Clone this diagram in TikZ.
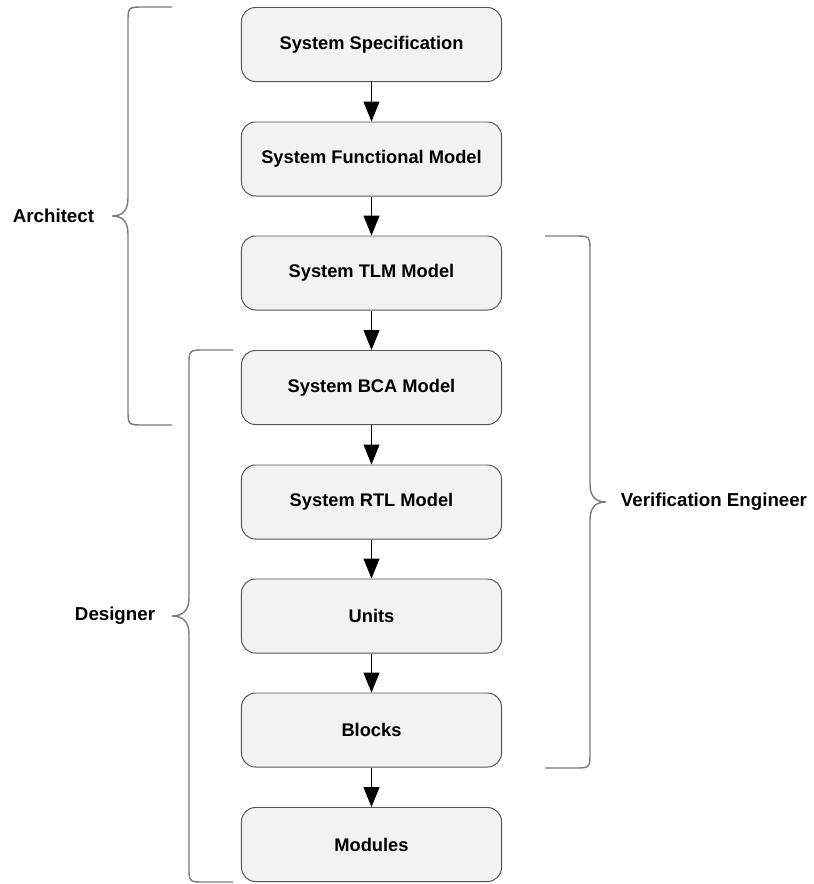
\documentclass[tikz,border=0pt]{standalone}
\usepackage{fontspec}
\setmainfont{Liberation Sans}
\usetikzlibrary{arrows.meta}

\definecolor{boxfill}{HTML}{F2F2F2}
\definecolor{boxline}{HTML}{555555}
\definecolor{braceline}{HTML}{7A7A7A}

\tikzset{
  stage/.style={draw=boxline, fill=boxfill, rounded corners=10pt, line width=0.7pt,
    minimum width=6.5cm, minimum height=1.85cm, font=\bfseries\fontsize{13}{15}\selectfont},
  flow/.style={line width=0.8pt, -{Triangle[length=0.5cm,width=0.4cm]}},
  brace/.style={draw=braceline, line width=1pt},
  role/.style={font=\bfseries\fontsize{13.3}{15}\selectfont}
}

\begin{document}
\begin{tikzpicture}[x=0.025cm,y=-0.025cm]
\useasboundingbox (0,0) rectangle (814,884);

\node[stage] (spec) at (371.5,44.5) {System Specification};
\node[stage] (func) at (371.5,159) {System Functional Model};
\node[stage] (tlm) at (371.5,273) {System TLM Model};
\node[stage] (bca) at (371.5,387.5) {System BCA Model};
\node[stage] (rtl) at (371.5,502) {System RTL Model};
\node[stage] (units) at (371.5,616) {Units};
\node[stage] (blocks) at (371.5,730) {Blocks};
\node[stage] (modules) at (371.5,844.5) {Modules};

\draw[flow] (spec) -- (func);
\draw[flow] (func) -- (tlm);
\draw[flow] (tlm) -- (bca);
\draw[flow] (bca) -- (rtl);
\draw[flow] (rtl) -- (units);
\draw[flow] (units) -- (blocks);
\draw[flow] (blocks) -- (modules);

% roles
\node[role, anchor=east] (arch) at (99,216) {Architect};
\node[role, anchor=east] (desig) at (160,616) {Designer};
\node[role, anchor=west] (verif) at (616,502) {Verification Engineer};

\coordinate (archtip) at (112,216);
\coordinate (desigtip) at (172,616);
\coordinate (veriftip) at (606,502);

\draw[brace] (172,7) -- (144,7) .. controls (128,7) .. (128,23) -- (128,198)
  .. controls (128,212) and (121,216) .. (archtip)
  .. controls (121,216) and (128,220) .. (128,234) -- (128,409)
  .. controls (128,425) .. (144,425) -- (172,425);
\draw[brace] (233,350) -- (205,350) .. controls (189,350) .. (189,366) -- (189,598)
  .. controls (189,612) and (181,616) .. (desigtip)
  .. controls (181,616) and (189,620) .. (189,634) -- (189,866)
  .. controls (189,882) .. (205,882) -- (233,882);
\draw[brace] (545,236) -- (574,236) .. controls (590,236) .. (590,252) -- (590,484)
  .. controls (590,498) and (597,502) .. (veriftip)
  .. controls (597,502) and (590,506) .. (590,520) -- (590,752)
  .. controls (590,768) .. (574,768) -- (545,768);
\end{tikzpicture}
\end{document}
